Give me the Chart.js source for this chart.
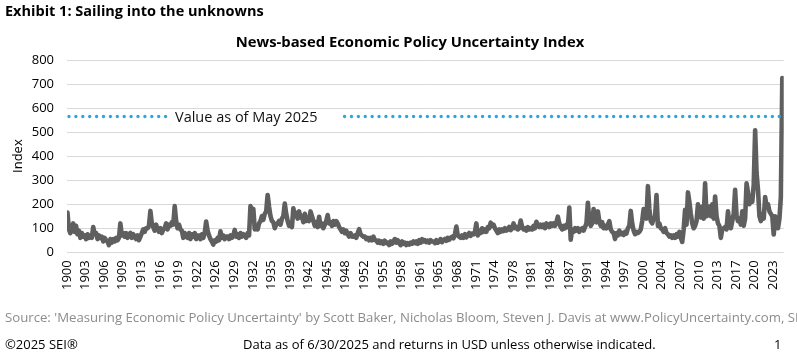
<!DOCTYPE html>
<html>
<head>
<meta charset="utf-8">
<script src="https://cdn.jsdelivr.net/npm/chart.js@4.4.1/dist/chart.umd.min.js"></script>
<style>
  html, body { margin: 0; padding: 0; background: #fff; }
  body { width: 797px; height: 353px; position: relative; overflow: hidden; font-family: "Open Sans", "Noto Sans", sans-serif; }
  .txt { position: absolute; white-space: nowrap; }
  #exhibit { left: 5px; top: 1px; font-size: 14.5px; font-weight: bold; color: #000; }
  #title { left: 0; width: 820px; top: 31px; text-align: center; font-size: 14.8px; font-weight: bold; color: #000; }
  #source { left: 5px; top: 308px; font-size: 13.2px; color: #8c8c8c; }
  #copy { left: 5px; top: 335px; font-size: 13px; color: #000; }
  #asof { left: 243px; top: 335px; font-size: 13px; color: #000; }
  #page { left: 774px; top: 335px; font-size: 13px; color: #000; }
  #wrap { position: absolute; left: 0; top: 0; width: 797px; height: 353px; }
</style>
</head>
<body>
<div id="wrap"><canvas id="myChart"></canvas></div>
<div class="txt" id="exhibit">Exhibit 1: Sailing into the unknowns</div>
<div class="txt" id="title">News-based Economic Policy Uncertainty Index</div>
<div class="txt" id="source">Source: 'Measuring Economic Policy Uncertainty' by Scott Baker, Nicholas Bloom, Steven J. Davis at www.PolicyUncertainty.com, SEI.</div>
<div class="txt" id="copy">©2025 SEI®</div>
<div class="txt" id="asof">Data as of 6/30/2025 and returns in USD unless otherwise indicated.</div>
<div class="txt" id="page">1</div>
<script>
// quarterly readings (Feb, May, Aug, Nov) of the news-based EPU index
const epu1900to1924 = [
  165, 95, 80, 100, 120, 85, 110, 75, 90, 60, 80, 65, 70, 55, 75, 60,
  70, 60, 105, 75, 80, 55, 70, 60, 65, 45, 60, 50, 45, 30, 55, 40,
  55, 45, 60, 50, 60, 120, 70, 80, 65, 80, 60, 75, 80, 60, 75, 65,
  55, 70, 50, 65, 80, 95, 85, 100, 100, 110, 172, 120, 105, 90, 115, 95,
  85, 100, 80, 95, 100, 120, 95, 115, 110, 125, 115, 192, 130, 100, 115, 95,
  90, 60, 80, 65, 60, 80, 55, 75, 65, 80, 55, 70, 70, 55, 75, 60,
  80, 128, 90, 70
];
const epu1925to1949 = [
  55, 45, 32, 50, 45, 60, 50, 87, 60, 70, 55, 65, 65, 55, 70, 60,
  70, 93, 65, 75, 60, 80, 65, 75, 70, 60, 80, 70, 192, 170, 180, 95,
  110, 95, 120, 130, 150, 135, 160, 170, 238, 190, 150, 130, 125, 100, 115, 120,
  130, 115, 140, 150, 203, 160, 130, 110, 120, 105, 183, 150, 165, 140, 170, 145,
  150, 125, 160, 130, 145, 130, 170, 150, 130, 110, 125, 105, 148, 110, 120, 100,
  115, 130, 155, 120, 125, 110, 130, 115, 130, 120, 105, 95, 85, 95, 80, 90,
  75, 65, 80, 65
];
const epu1950to1974 = [
  65, 70, 60, 80, 96, 75, 70, 65, 65, 55, 60, 50, 60, 50, 65, 50,
  50, 40, 48, 38, 45, 35, 48, 38, 40, 30, 45, 35, 45, 55, 40, 50,
  38, 30, 45, 35, 40, 30, 38, 32, 40, 35, 45, 38, 45, 35, 50, 40,
  55, 45, 50, 42, 48, 40, 50, 45, 45, 38, 50, 40, 45, 55, 42, 50,
  55, 48, 60, 52, 60, 65, 58, 75, 107, 70, 65, 60, 70, 60, 75, 62,
  72, 80, 68, 78, 75, 85, 120, 70, 90, 80, 100, 85, 95, 85, 105, 100,
  123, 110, 115, 100
];
const epu1975to1999 = [
  90, 80, 95, 85, 95, 88, 100, 90, 95, 105, 92, 100, 120, 100, 105, 95,
  100, 132, 105, 95, 100, 90, 105, 95, 100, 95, 110, 100, 127, 110, 105, 115,
  105, 115, 100, 120, 115, 105, 120, 110, 120, 110, 125, 148, 120, 105, 95, 110,
  100, 115, 105, 186, 52, 95, 85, 100, 90, 100, 85, 95, 100, 90, 105, 120,
  206, 130, 110, 120, 180, 130, 125, 170, 130, 110, 125, 100, 110, 100, 115, 130,
  95, 85, 80, 55, 80, 70, 90, 75, 80, 72, 85, 78, 100, 110, 172, 120,
  90, 75, 85, 80
];
const epu2000to2025 = [
  85, 95, 130, 180, 150, 140, 275, 180, 130, 120, 140, 150, 238, 110, 120, 100,
  95, 85, 100, 80, 75, 65, 70, 60, 70, 60, 75, 65, 85, 60, 43, 95,
  177, 115, 249, 210, 160, 120, 100, 110, 130, 200, 150, 145, 190, 140, 287, 150,
  160, 190, 150, 200, 140, 232, 150, 120, 110, 60, 95, 100, 105, 95, 170, 120,
  100, 130, 160, 260, 150, 130, 140, 115, 170, 110, 140, 287, 250, 200, 220, 210,
  280, 507, 330, 260, 150, 130, 160, 140, 230, 190, 200, 170, 160, 150, 74, 150,
  130, 100, 140, 232, 725, 565
];
const mayValue = 565;
const tickYears = [1900, 1903, 1906, 1909, 1913, 1916, 1919, 1922, 1926, 1929, 1932, 1935, 1939,
  1942, 1945, 1948, 1952, 1955, 1958, 1961, 1965, 1968, 1971, 1974, 1978, 1981, 1984, 1987,
  1991, 1994, 1997, 2000, 2004, 2007, 2010, 2013, 2017, 2020, 2023];
const yTicks = [0, 100, 200, 300, 400, 500, 600, 700, 800];

const epu = [].concat(epu1900to1924, epu1925to1949, epu1950to1974, epu1975to1999, epu2000to2025);
// months since Jan 1900: Feb=1, May=4, ...
const points = epu.map((v, i) => ({ x: i * 3 + 1, y: v }));
const lastMonth = points[points.length - 1].x;
const tickStep = 39; // excel labels every 39 months

const mayLine = {
  id: "mayLine",
  afterDatasetsDraw(chart) {
    const { ctx, chartArea, scales } = chart;
    const y = scales.y.getPixelForValue(mayValue);
    const label = "Value as of May 2025";
    ctx.save();
    ctx.font = "14.5px 'Open Sans'";
    const tx = chartArea.left + 108;
    const tw = ctx.measureText(label).width;
    ctx.strokeStyle = "#2ea6dc";
    ctx.lineWidth = 3.4;
    ctx.lineCap = "round";
    ctx.setLineDash([0, 6.9]);
    ctx.beginPath();
    ctx.moveTo(chartArea.left + 2, y);
    ctx.lineTo(tx - 4, y);
    ctx.moveTo(tx + tw + 27, y);
    ctx.lineTo(chartArea.right - 2, y);
    ctx.stroke();
    ctx.fillStyle = "#111";
    ctx.textBaseline = "middle";
    ctx.fillText(label, tx, y + 1);
    ctx.restore();
  },
};

new Chart("myChart", {
  type: "line",
  data: {
    datasets: [
      {
        data: points,
        borderColor: "#5f5f5f",
        borderWidth: 4.6,
        borderJoinStyle: "round",
        borderCapStyle: "round",
        pointRadius: 0,
        tension: 0,
        fill: false,
      },
    ],
  },
  options: {
    responsive: true,
    maintainAspectRatio: false,
    animation: false,
    layout: { padding: { top: 60, right: 10, bottom: 55, left: 0 } },
    plugins: { legend: { display: false }, tooltip: { enabled: false } },
    scales: {
      x: {
        type: "linear",
        min: 0,
        max: lastMonth,
        grid: { display: false, drawTicks: false },
        border: { display: false },
        afterBuildTicks: (axis) => {
          axis.ticks = tickYears.map((yr, j) => ({ value: j * tickStep }));
        },
        ticks: {
          autoSkip: false,
          minRotation: 90,
          maxRotation: 90,
          padding: 8,
          color: "#000",
          font: { family: "'Open Sans'", size: 13 },
          callback: (v, i) => tickYears[i],
        },
      },
      y: {
        min: 0,
        max: 800,
        afterBuildTicks: (axis) => {
          axis.ticks = yTicks.map((v) => ({ value: v }));
        },
        afterFit: (axis) => {
          axis.width = 67;
        },
        grid: { color: "#d9d9d9", lineWidth: 1, drawTicks: false },
        border: { display: false },
        title: {
          display: true,
          text: "Index",
          color: "#000",
          font: { family: "'Open Sans'", size: 13 },
          padding: { top: 10, bottom: 4 },
        },
        ticks: {
          padding: 13,
          color: "#000",
          font: { family: "'Open Sans'", size: 13 },
        },
      },
    },
  },
  plugins: [mayLine],
});
</script>
</body>
</html>
